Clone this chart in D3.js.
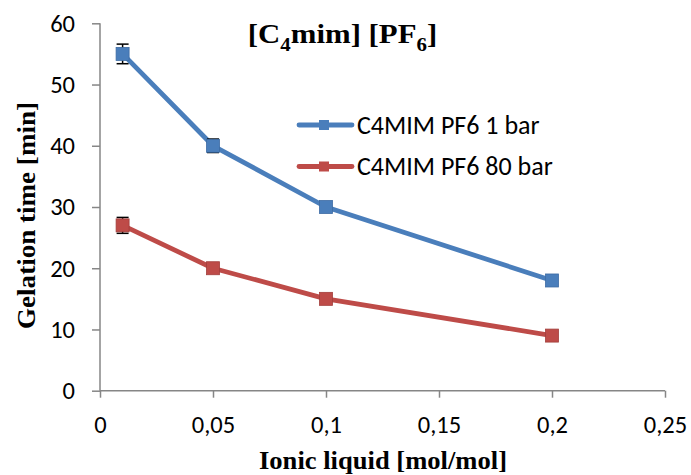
<!DOCTYPE html>
<html>
<head>
<meta charset="utf-8">
<script src="https://cdn.jsdelivr.net/npm/d3@7"></script>
<style>
  body { margin: 0; background: #fff; }
  .tick-label { font-family: Carlito, Lato, "Liberation Sans", Arial, sans-serif; font-size: 24.5px; fill: #000; }
  .axis-title { font-family: "Liberation Serif", "Times New Roman", serif; font-weight: bold; font-size: 26px; fill: #000; }
  .chart-title { font-family: "Liberation Serif", "Times New Roman", serif; font-weight: bold; font-size: 28px; fill: #000; }
  .legend-label { font-family: Carlito, Lato, "Liberation Sans", Arial, sans-serif; font-size: 26px; fill: #000; }
</style>
</head>
<body>
<div id="chart"></div>
<script>
const ionicLiquid = [0.01, 0.05, 0.1, 0.2];
const seriesNames = ["C4MIM PF6 1 bar", "C4MIM PF6 80 bar"];
const time1bar = [55, 40, 30, 18];
const time80bar = [27, 20, 15, 9];
const err1bar = [1.6, 1.1, 0, 0];
const err80bar = [1.3, 0.8, 0, 0];
const xTicks = [0, 0.05, 0.1, 0.15, 0.2, 0.25];
const yTicks = [0, 10, 20, 30, 40, 50, 60];
const seriesColors = ["#4a7ebb", "#be4b48"];
const markerStroke = ["#3d6ba3", "#a23f3c"];

const WIDTH = 691;
const HEIGHT = 475;
const MARGIN = { top: 23.3, right: 26, bottom: 84.3, left: 100 };

const svg = d3.select("#chart")
  .append("svg")
  .attr("width", WIDTH)
  .attr("height", HEIGHT);

const x = d3.scaleLinear().domain([0, 0.25]).range([MARGIN.left, WIDTH - MARGIN.right]);
const y = d3.scaleLinear().domain([0, 60]).range([HEIGHT - MARGIN.bottom, MARGIN.top]);

const axisColor = "#868686";
const fmt = (v) => String(v).replace(".", ",");

// y axis
const yAxis = svg.append("g")
  .attr("transform", `translate(${MARGIN.left},0)`)
  .call(d3.axisLeft(y).tickValues(yTicks).tickSize(8).tickPadding(17).tickFormat(fmt));
yAxis.select(".domain").attr("stroke", axisColor).attr("stroke-width", 1.5).attr("d", `M0,${y(60)}V${y(0)}`);
yAxis.selectAll(".tick line").attr("stroke", axisColor).attr("stroke-width", 1.5);
yAxis.selectAll(".tick text").attr("class", "tick-label").attr("font-family", null).attr("font-size", null);

// x axis
const xAxis = svg.append("g")
  .attr("transform", `translate(0,${y(0)})`)
  .call(d3.axisBottom(x).tickValues(xTicks).tickSize(7).tickFormat(fmt));
xAxis.select(".domain").attr("stroke", axisColor).attr("stroke-width", 1.5).attr("d", `M${x(0)},0H${x(0.25)}`);
xAxis.selectAll(".tick line").attr("stroke", axisColor).attr("stroke-width", 1.5);
xAxis.selectAll(".tick text")
  .attr("class", "tick-label")
  .attr("font-family", null).attr("font-size", null)
  .attr("y", 42).attr("dy", 0);

// titles
svg.append("text")
  .attr("class", "axis-title")
  .attr("x", 383)
  .attr("y", 469)
  .attr("text-anchor", "middle")
  .attr("textLength", 248)
  .attr("lengthAdjust", "spacingAndGlyphs")
  .text("Ionic liquid [mol/mol]");

svg.append("text")
  .attr("class", "axis-title")
  .attr("transform", `translate(35,215.5) rotate(-90)`)
  .attr("text-anchor", "middle")
  .attr("textLength", 227)
  .attr("lengthAdjust", "spacingAndGlyphs")
  .text("Gelation time [min]");

const title = svg.append("text")
  .attr("class", "chart-title")
  .attr("transform", "translate(342.5,43) scale(1.1,1)")
  .attr("text-anchor", "middle");
title.append("tspan").text("[C");
title.append("tspan").attr("font-size", 19).attr("dy", 8).text("4");
title.append("tspan").attr("dy", -8).text("mim] [PF");
title.append("tspan").attr("font-size", 19).attr("dy", 8).text("6");
title.append("tspan").attr("dy", -8).text("]");

// series
const series = [
  { name: seriesNames[0], values: time1bar, errors: err1bar },
  { name: seriesNames[1], values: time80bar, errors: err80bar }
];

const line = d3.line().x((d) => x(d.x)).y((d) => y(d.y));

series.forEach((s, i) => {
  const points = ionicLiquid.map((xv, j) => ({ x: xv, y: s.values[j], e: s.errors[j] }));
  const g = svg.append("g");
  g.append("path")
    .datum(points)
    .attr("fill", "none")
    .attr("stroke", seriesColors[i])
    .attr("stroke-width", 4.8)
    .attr("stroke-linejoin", "round")
    .attr("d", line);

  const eb = g.selectAll(".err").data(points.filter((p) => p.e > 0)).enter().append("g");
  eb.append("line")
    .attr("x1", (d) => x(d.x)).attr("x2", (d) => x(d.x))
    .attr("y1", (d) => y(d.y + d.e)).attr("y2", (d) => y(d.y - d.e))
    .attr("stroke", "#000").attr("stroke-width", 1.5);
  [1, -1].forEach((sgn) => {
    eb.append("line")
      .attr("x1", (d) => x(d.x) - 6).attr("x2", (d) => x(d.x) + 6)
      .attr("y1", (d) => y(d.y + sgn * d.e)).attr("y2", (d) => y(d.y + sgn * d.e))
      .attr("stroke", "#000").attr("stroke-width", 1.5);
  });

  g.selectAll(".marker").data(points).enter().append("rect")
    .attr("x", (d) => x(d.x) - 6.5)
    .attr("y", (d) => y(d.y) - 6.5)
    .attr("width", 13)
    .attr("height", 13)
    .attr("fill", seriesColors[i])
    .attr("stroke", markerStroke[i])
    .attr("stroke-width", 0.8);
});

// legend
const legend = svg.append("g");
series.forEach((s, i) => {
  const ly = 125 + i * 41.5;
  legend.append("line")
    .attr("x1", 299).attr("x2", 352).attr("y1", ly).attr("y2", ly)
    .attr("stroke", seriesColors[i]).attr("stroke-width", 4.8).attr("stroke-linecap", "round");
  legend.append("rect")
    .attr("x", 319).attr("y", ly - 5).attr("width", 10).attr("height", 10)
    .attr("fill", seriesColors[i]);
  legend.append("text")
    .attr("class", "legend-label")
    .attr("x", 357).attr("y", ly + 8.5)
    .text(s.name);
});
</script>
</body>
</html>
